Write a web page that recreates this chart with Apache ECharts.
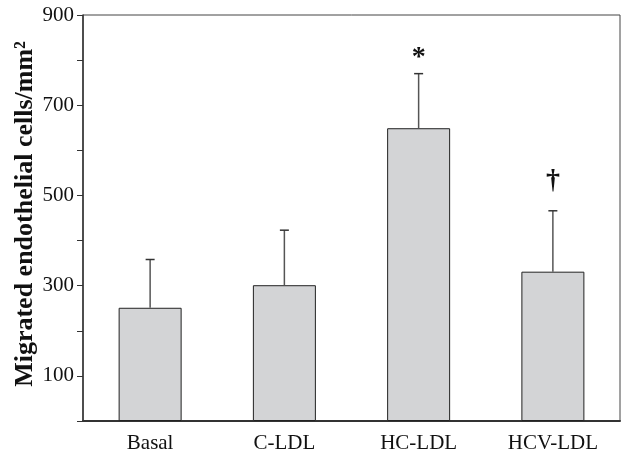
<!DOCTYPE html>
<html>
<head>
<meta charset="utf-8">
<script src="https://cdn.jsdelivr.net/npm/echarts@6/dist/echarts.min.js"></script>
<style>html,body{margin:0;padding:0;background:#fff;}#c{width:623px;height:461px;}</style>
</head>
<body>
<div id="c"></div>
<script>
const categories = ['Basal', 'C-LDL', 'HC-LDL', 'HCV-LDL'];
const means = [251, 301, 649, 331];
const sds = [107, 122, 121, 135];
const marks = ['', '', '*', '†'];
const yTicks = [100, 300, 500, 700, 900];

const chart = echarts.init(document.getElementById('c'));
const font = 'Liberation Serif, Times New Roman, serif';
chart.setOption({
  animation: false,
  grid: { left: 83, right: 3, top: 15, bottom: 40, outerBoundsMode: 'none', containLabel: false,
          show: true, borderColor: '#444', borderWidth: 1, backgroundColor: 'transparent' },
  xAxis: {
    type: 'category', data: categories,
    axisLine: { lineStyle: { color: '#333', width: 2 } },
    axisTick: { length: 6, lineStyle: { color: '#333', width: 1 } },
    axisLabel: { color: '#111', fontFamily: font, fontSize: 21, margin: 12 }
  },
  yAxis: {
    type: 'value', min: 0, max: 900, interval: 100,
    name: 'Migrated endothelial cells/mm²', nameLocation: 'middle', nameGap: 45, nameRotate: 90,
    nameMoveOverlap: false,
    nameTextStyle: { fontFamily: font, fontWeight: 'bold', fontSize: 26, color: '#111', padding: [0, 0, 0, 8] },
    axisLine: { show: true, lineStyle: { color: '#333', width: 1.5 } },
    axisTick: { show: true, length: 6, lineStyle: { color: '#333' } },
    splitLine: { show: false },
    axisLabel: {
      color: '#111', fontFamily: font, fontSize: 21, margin: 9,
      formatter: v => yTicks.indexOf(v) >= 0 ? String(v) : ''
    }
  },
  series: [
    {
      type: 'bar', data: means, barWidth: 63,
      itemStyle: { color: '#d3d4d6', borderColor: '#222', borderWidth: 1 }
    },
    {
      type: 'custom', z: 5,
      data: means.map((m, i) => [i, m, m + sds[i]]),
      renderItem: (params, api) => {
        const i = api.value(0);
        const lo = api.coord([i, api.value(1)]);
        const hi = api.coord([i, api.value(2)]);
        const children = [
          { type: 'line', shape: { x1: lo[0], y1: lo[1], x2: hi[0], y2: hi[1] }, style: { stroke: '#555', lineWidth: 1.5 } },
          { type: 'line', shape: { x1: hi[0] - 4.5, y1: hi[1], x2: hi[0] + 4.5, y2: hi[1] }, style: { stroke: '#333', lineWidth: 1.5 } }
        ];
        const mk = marks[i];
        if (mk) {
          children.push({ type: 'text', x: hi[0], y: hi[1] - (mk === '*' ? 2 : 16),
            style: { text: mk, fill: '#111', font: 'bold 28px ' + font, textAlign: 'center', textVerticalAlign: 'bottom' } });
        }
        return { type: 'group', children };
      }
    }
  ]
});
</script>
</body>
</html>
